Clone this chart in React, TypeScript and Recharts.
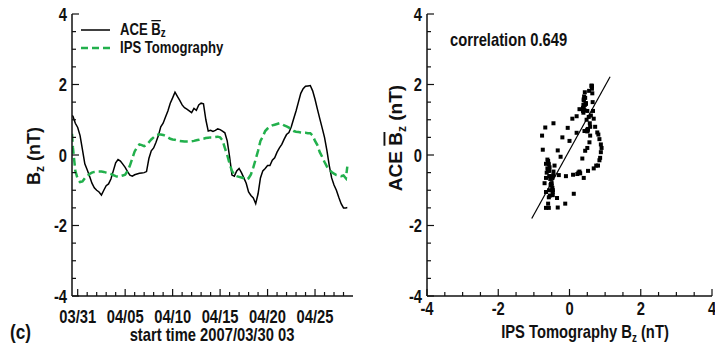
import React from 'react';
import {
  LineChart,
  Line,
  XAxis,
  YAxis,
  Legend,
  ScatterChart,
  Scatter,
  ReferenceLine,
} from 'recharts';

// days counted from 2007/03/30 00 UT, sampled every 6 h
const days = [
  0.4, 0.5, 0.75,
  1, 1.25, 1.5, 1.75, 2, 2.25, 2.5, 2.75, 3, 3.25, 3.5, 3.75, 4, 4.25, 4.5, 4.75,
  5, 5.25, 5.5, 5.75, 6, 6.25, 6.5, 6.75, 7, 7.25, 7.5, 7.75, 8, 8.25, 8.5, 8.75,
  9, 9.25, 9.5, 9.75, 10, 10.25, 10.5, 10.75, 11, 11.25, 11.5, 11.75, 12, 12.25, 12.5, 12.75,
  13, 13.25, 13.5, 13.75, 14, 14.25, 14.5, 14.75, 15, 15.25, 15.5, 15.75, 16, 16.25, 16.5, 16.75,
  17, 17.25, 17.5, 17.75, 18, 18.25, 18.5, 18.75, 19, 19.25, 19.5, 19.75, 20, 20.25, 20.5, 20.75,
  21, 21.25, 21.5, 21.75, 22, 22.25, 22.5, 22.75, 23, 23.25, 23.5, 23.75, 24, 24.25, 24.5, 24.75,
  25, 25.25, 25.5, 25.75, 26, 26.25, 26.5, 26.75, 27, 27.25, 27.5, 27.75, 28, 28.25, 28.5, 28.75,
  29, 29.25, 29.4,
];

// ACE Bz averaged (nT)
const aceBz = [
  1.12, 1.1, 0.9,
  0.78, 0.55, 0.15, -0.25, -0.42, -0.6, -0.8, -0.93, -1.0, -1.05, -1.14, -1.0, -0.87, -0.82, -0.68, -0.45,
  -0.22, -0.13, -0.17, -0.26, -0.35, -0.47, -0.57, -0.6, -0.56, -0.54, -0.52, -0.51, -0.5, -0.47, -0.1, 0.12,
  0.2, 0.36, 0.55, 0.8, 0.9, 1.08, 1.25, 1.47, 1.62, 1.78, 1.66, 1.55, 1.42, 1.34, 1.3, 1.25,
  1.2, 1.32, 1.27, 1.42, 1.47, 1.45, 1.0, 0.68, 0.7, 0.67, 0.7, 0.74, 0.72, 0.68, 0.63, 0.4,
  -0.05, -0.57, -0.6, -0.45, -0.38, -0.5, -0.65, -0.8, -1.05, -1.15, -1.22, -1.38, -1.1, -0.65, -0.45, -0.38,
  -0.3, -0.3, -0.15, -0.08, 0.08, 0.2, 0.3, 0.45, 0.58, 0.64, 0.8, 1.03, 1.25, 1.5, 1.75, 1.88,
  1.95, 1.96, 1.97, 1.82, 1.58, 1.3, 1.03, 0.77, 0.5, 0.13, -0.3, -0.65, -0.85, -1.0, -1.2, -1.38,
  -1.5, -1.5, -1.49,
];

// IPS tomography Bz (nT)
const ipsBz = [
  0.6, 0.2, -0.45,
  -0.68, -0.77, -0.75, -0.66, -0.6, -0.54, -0.5, -0.48, -0.47, -0.47, -0.47, -0.48, -0.5, -0.52, -0.54, -0.57,
  -0.6, -0.62, -0.6, -0.58, -0.56, -0.45, -0.3, -0.1, 0.1, 0.22, 0.3, 0.28, 0.25, 0.28, 0.36, 0.44,
  0.5, 0.56, 0.58, 0.58, 0.57, 0.54, 0.5, 0.46, 0.44, 0.43, 0.41, 0.4, 0.39, 0.38, 0.38, 0.38,
  0.39, 0.4, 0.42, 0.43, 0.45, 0.46, 0.48, 0.49, 0.5, 0.5, 0.51, 0.52, 0.5, 0.42, 0.2, 0.0,
  -0.25, -0.45, -0.57, -0.6, -0.62, -0.64, -0.66, -0.7, -0.66, -0.55, -0.35, -0.12, 0.12, 0.4, 0.52, 0.68,
  0.75, 0.8, 0.84, 0.86, 0.88, 0.9, 0.88, 0.84, 0.81, 0.78, 0.72, 0.68, 0.66, 0.65, 0.64, 0.63,
  0.63, 0.62, 0.62, 0.55, 0.4, 0.28, 0.08, -0.05, -0.2, -0.33, -0.42, -0.48, -0.53, -0.57, -0.58, -0.6,
  -0.58, -0.66, -0.33,
];

const dayTicks = [1, 2, 3, 4, 5, 6, 7, 8, 9, 10, 11, 12, 13, 14, 15, 16, 17, 18, 19, 20, 21, 22, 23, 24, 25, 26, 27, 28, 29];
const dateTickDays = [1, 6, 11, 16, 21, 26];
const dateTickLabels = ['03/31', '04/05', '04/10', '04/15', '04/20', '04/25'];
const bzTicks = [-4, -3.5, -3, -2.5, -2, -1.5, -1, -0.5, 0, 0.5, 1, 1.5, 2, 2.5, 3, 3.5, 4];
const bzMajorTicks = [-4, -2, 0, 2, 4];
const correlation = '0.649';
const fitLine = [{ x: -1.06, y: -1.8 }, { x: 1.14, y: 2.22 }];

const timeRows = days.map((day, i) => ({ day, ace: aceBz[i], ips: ipsBz[i] }));
const scatterRows = days.map((_, i) => ({ x: ipsBz[i], y: aceBz[i] }));

const FONT = "'Liberation Sans', Arial, sans-serif";
const INK = '#111';
const GREEN = '#22b04c';
const SQUEEZE = 0.82; // the figure's lettering is horizontally condensed

// bold condensed text, positioned by its baseline
const NText = ({ x, y, anchor = 'start', size = 18, children }: any) => (
  <text
    transform={`translate(${x},${y}) scale(${SQUEEZE},1)`}
    textAnchor={anchor}
    fontFamily={FONT}
    fontWeight={700}
    fontSize={size}
    fill={INK}
  >
    {children}
  </text>
);

type Side = 'bottom' | 'top' | 'left' | 'right';

// inward tick marks, IDL style; labels only on the majors
const makeTick = (side: Side, majors: number[], label?: (v: number) => string | null, gap = 0) =>
  (props: any) => {
    const { x, y, payload } = props;
    const v = payload.value;
    const len = majors.includes(v) ? 7 : 4;
    const dx = side === 'left' ? len : side === 'right' ? -len : 0;
    const dy = side === 'bottom' ? -len : side === 'top' ? len : 0;
    const text = label ? label(v) : null;
    return (
      <g>
        <line x1={x} y1={y} x2={x + dx} y2={y + dy} stroke={INK} strokeWidth={1.2} />
        {text !== null && side === 'left' && (
          <NText x={x - gap} y={y + 6.5} anchor="end">
            {text}
          </NText>
        )}
        {text !== null && side === 'bottom' && (
          <NText x={x} y={y + gap} anchor="middle">
            {text}
          </NText>
        )}
      </g>
    );
  };

const dateLabel = (v: number) => {
  const i = dateTickDays.indexOf(v);
  return i >= 0 ? dateTickLabels[i] : null;
};
const bzLabel = (v: number) => (bzMajorTicks.includes(v) ? String(v) : null);

const axisLine = { stroke: INK, strokeWidth: 1.5 };

const legendLabels: Record<string, React.ReactNode> = {
  ace: (
    <>
      ACE <tspan textDecoration="overline">B</tspan>
      <tspan dy={2} fontSize={12}>z</tspan>
    </>
  ),
  ips: <>IPS Tomography</>,
};

const LegendBox = ({ payload }: any) => (
  <svg width={170} height={40}>
    {(payload || []).map((entry: any, i: number) => (
      <g key={entry.dataKey} transform={`translate(0,${i * 18})`}>
        <line
          x1={1}
          y1={10}
          x2={30}
          y2={10}
          stroke={entry.color}
          strokeWidth={entry.dataKey === 'ips' ? 2.5 : 1.5}
          strokeDasharray={entry.dataKey === 'ips' ? '7 4' : undefined}
        />
        <NText x={40} y={15} size={16}>
          {legendLabels[entry.dataKey]}
        </NText>
      </g>
    ))}
  </svg>
);

const Square = (props: any) => {
  const { cx, cy } = props;
  if (cx == null || cy == null) return null;
  return <rect x={cx - 2} y={cy - 2} width={4} height={4} fill="#000" />;
};

export default function App() {
  return (
    <div style={{ position: 'absolute', left: 0, top: 0, width: 715, height: 344, background: '#fff', overflow: 'hidden' }}>
      <div style={{ position: 'absolute', left: 0, top: 0 }}>
        <LineChart width={360} height={344} data={timeRows} margin={{ top: 14, right: 7, bottom: 18, left: 0 }}>
          <XAxis
            dataKey="day"
            type="number"
            domain={[0.4, 30]}
            allowDataOverflow
            ticks={dayTicks}
            interval={0}
            height={30}
            tickSize={0}
            tickMargin={0}
            tickLine={false}
            axisLine={axisLine}
            tick={makeTick('bottom', dateTickDays, dateLabel, 27)}
          />
          <XAxis
            xAxisId="top"
            orientation="top"
            type="number"
            domain={[0.4, 30]}
            allowDataOverflow
            ticks={dayTicks}
            interval={0}
            height={0}
            tickSize={0}
            tickMargin={0}
            tickLine={false}
            axisLine={axisLine}
            tick={makeTick('top', dateTickDays)}
          />
          <YAxis
            type="number"
            domain={[-4, 4]}
            allowDataOverflow
            ticks={bzTicks}
            interval={0}
            width={72}
            tickSize={0}
            tickMargin={0}
            tickLine={false}
            axisLine={axisLine}
            tick={makeTick('left', bzMajorTicks, bzLabel, 5)}
          />
          <YAxis
            yAxisId="right"
            orientation="right"
            type="number"
            domain={[-4, 4]}
            allowDataOverflow
            ticks={bzTicks}
            interval={0}
            width={0}
            tickSize={0}
            tickMargin={0}
            tickLine={false}
            axisLine={axisLine}
            tick={makeTick('right', bzMajorTicks)}
          />
          <Legend
            layout="vertical"
            align="center"
            verticalAlign="middle"
            content={<LegendBox />}
            wrapperStyle={{ left: 80, top: 20, width: 170, height: 40 }}
          />
          <Line dataKey="ace" name="ACE Bz" stroke="#000" strokeWidth={1.5} dot={false} isAnimationActive={false} />
          <Line
            dataKey="ips"
            name="IPS Tomography"
            stroke={GREEN}
            strokeWidth={2.5}
            strokeDasharray="8 4"
            dot={false}
            isAnimationActive={false}
          />
        </LineChart>
      </div>

      <div style={{ position: 'absolute', left: 360, top: 0 }}>
        <ScatterChart width={355} height={344} margin={{ top: 14, right: 3, bottom: 18, left: 0 }}>
          <XAxis
            dataKey="x"
            type="number"
            domain={[-4, 4]}
            allowDataOverflow
            ticks={bzTicks}
            interval={0}
            height={30}
            tickSize={0}
            tickMargin={0}
            tickLine={false}
            axisLine={axisLine}
            tick={makeTick('bottom', bzMajorTicks, bzLabel, 19)}
          />
          <XAxis
            xAxisId="top"
            orientation="top"
            type="number"
            domain={[-4, 4]}
            allowDataOverflow
            ticks={bzTicks}
            interval={0}
            height={0}
            tickSize={0}
            tickMargin={0}
            tickLine={false}
            axisLine={axisLine}
            tick={makeTick('top', bzMajorTicks)}
          />
          <YAxis
            dataKey="y"
            type="number"
            domain={[-4, 4]}
            allowDataOverflow
            ticks={bzTicks}
            interval={0}
            width={67}
            tickSize={0}
            tickMargin={0}
            tickLine={false}
            axisLine={axisLine}
            tick={makeTick('left', bzMajorTicks, bzLabel, 5)}
          />
          <YAxis
            yAxisId="right"
            orientation="right"
            type="number"
            domain={[-4, 4]}
            allowDataOverflow
            ticks={bzTicks}
            interval={0}
            width={0}
            tickSize={0}
            tickMargin={0}
            tickLine={false}
            axisLine={axisLine}
            tick={makeTick('right', bzMajorTicks)}
          />
          <ReferenceLine segment={fitLine} stroke="#000" strokeWidth={1.2} ifOverflow="visible" />
          <Scatter data={scatterRows} shape={<Square />} isAnimationActive={false} />
        </ScatterChart>
      </div>

      <svg width={715} height={344} style={{ position: 'absolute', left: 0, top: 0, pointerEvents: 'none' }}>
        <g fontWeight={700} fill={INK}>
          <text transform="translate(39.5,156) rotate(-90)" textAnchor="middle" fontFamily={FONT} fontSize={18}>
            B<tspan dy={4} fontSize={12}>z</tspan>
            <tspan dy={-4}> (nT)</tspan>
          </text>
          <text transform="translate(401.5,138) rotate(-90)" textAnchor="middle" fontFamily={FONT} fontSize={19}>
            ACE <tspan textDecoration="overline">B</tspan>
            <tspan dy={4} fontSize={12}>z</tspan>
            <tspan dy={-4}> (nT)</tspan>
          </text>
        </g>
        <NText x={212} y={341} anchor="middle">
          start time 2007/03/30 03
        </NText>
        <NText x={585} y={338}>
          <tspan textAnchor="middle">
            IPS Tomography B<tspan dy={4} fontSize={12}>z</tspan>
            <tspan dy={-4}> (nT)</tspan>
          </tspan>
        </NText>
        <NText x={10} y={339} size={21}>
          (c)
        </NText>
        <NText x={450} y={46}>
          correlation {correlation}
        </NText>
      </svg>
    </div>
  );
}
